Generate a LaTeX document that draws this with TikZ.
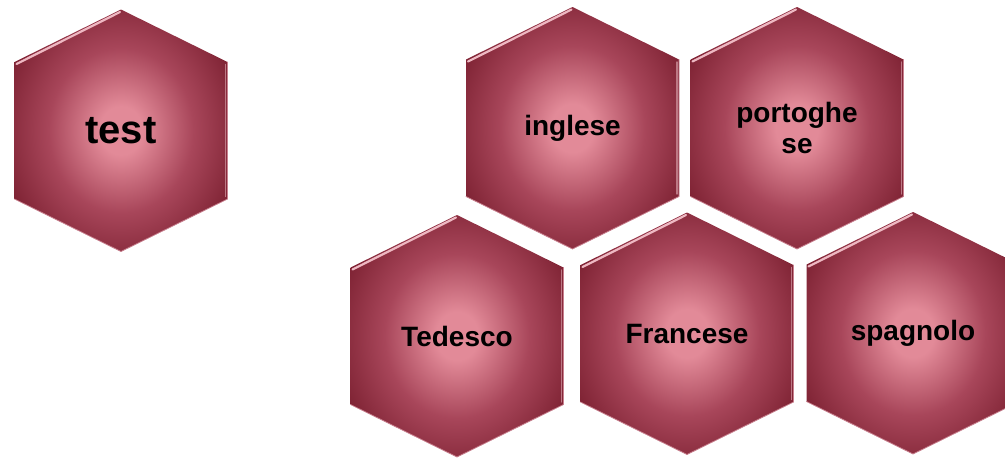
\documentclass[tikz,border=0pt]{standalone}
\usepackage{fontspec}
\setmainfont{Liberation Sans}
\definecolor{hexdark}{RGB}{116,26,42}
\definecolor{hexmid}{RGB}{168,70,90}
\definecolor{hexlight}{RGB}{226,138,152}
\definecolor{hexrim}{RGB}{238,184,194}
\definecolor{hexedge}{RGB}{200,128,142}
\pgfdeclareradialshading{hexglow}{\pgfpoint{0bp}{0bp}}{color(0bp)=(hexlight);color(5bp)=(hexlight);color(17bp)=(hexmid);color(32bp)=(hexdark);color(50bp)=(hexdark)}
\tikzset{
  hexlabel/.style={font=\bfseries\fontsize{28}{31}\selectfont,align=center,text=black},
  biglabel/.style={hexlabel,font=\bfseries\fontsize{40}{44}\selectfont}
}
% #1 name, #2 x, #3 y, #4 label style, #5 text
\newcommand\hexcell[5]{%
  \shade[shading=hexglow] (#2-106.5,#3-68.5) -- (#2,#3-121) -- (#2+106.5,#3-68.5)
    -- (#2+106.5,#3+68.5) -- (#2,#3+121) -- (#2-106.5,#3+68.5) -- cycle;
  \draw[hexedge,line width=.8pt] (#2-106.5,#3+68.5) -- (#2,#3+121) -- (#2+106.5,#3+68.5) -- (#2+106.5,#3-68.5);
  \draw[hexrim,line width=2.2pt] (#2-104.5,#3-66.5) -- (#2-1,#3-118.5);
  \draw[hexrim!60!hexdark,line width=1.4pt] (#2+104.5,#3-66) -- (#2+104.5,#3+66);
  \node[#4] (#1) at (#2,#3) {#5};
}
\begin{document}
\begin{tikzpicture}[x=1pt,y=-1pt,line join=round,line cap=round]
  \path[use as bounding box] (0,0) rectangle (1005,459);
  \clip (0,0) rectangle (1005,459);
  \hexcell{test}{121}{130.5}{biglabel}{test}
  \hexcell{inglese}{572.5}{128}{hexlabel}{inglese}
  \hexcell{portoghese}{797}{128}{hexlabel}{portoghe\\se}
  \hexcell{tedesco}{457}{336}{hexlabel}{Tedesco}
  \hexcell{francese}{687}{333.5}{hexlabel}{Francese}
  \hexcell{spagnolo}{913}{333}{hexlabel}{spagnolo}
\end{tikzpicture}
\end{document}
